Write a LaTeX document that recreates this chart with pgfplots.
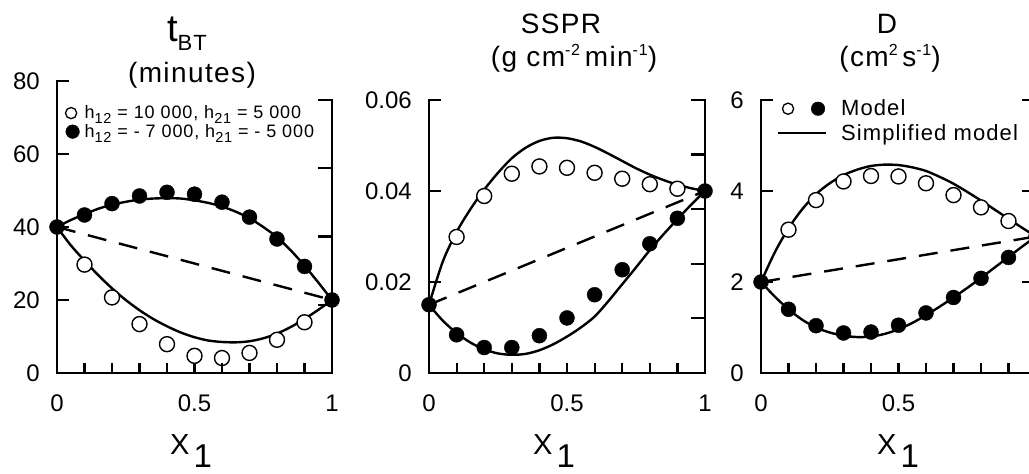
\documentclass[border=0pt]{standalone}
\usepackage{pgfplots}
\usepackage{pgfplotstable}
\pgfplotsset{compat=1.18}
\usepackage{fontspec}
\setmainfont{Liberation Sans}
\newfontfamily\wide[LetterSpace=5]{Liberation Sans}
\newcommand\sub[1]{\raisebox{-5pt}{\fontsize{14.5}{15}\selectfont #1}}
\newcommand\sups[1]{\raisebox{11pt}{\fontsize{16}{16}\selectfont #1}}

% ---------- panel A: t_BT ----------
\pgfplotstableread{
x y
0 40
0.05 41.9
0.1 43.5
0.15 45.0
0.2 46.1
0.25 46.9
0.3 47.5
0.35 47.8
0.4 47.9
0.45 47.8
0.5 47.3
0.55 46.6
0.6 45.6
0.65 44.2
0.7 42.4
0.75 40.0
0.8 37.2
0.85 33.6
0.9 29.4
0.95 24.8
1 20
}\tAup
\pgfplotstableread{
x y
0 40
0.05 35.0
0.1 30.8
0.15 26.8
0.2 23.2
0.25 20.0
0.3 17.2
0.35 14.8
0.4 12.8
0.45 11.1
0.5 9.8
0.55 8.9
0.6 8.5
0.65 8.4
0.7 8.7
0.75 9.5
0.8 10.8
0.85 12.6
0.9 14.8
0.95 17.3
1 20
}\tAlo
\pgfplotstableread{
x y
0.1 29.7
0.2 20.7
0.3 13.4
0.4 7.9
0.5 4.7
0.6 4.1
0.7 5.5
0.8 9.1
0.9 13.9
}\tAopen
\pgfplotstableread{
x y
0 40
0.1 43.3
0.2 46.4
0.3 48.5
0.4 49.5
0.5 49.0
0.6 46.8
0.7 42.7
0.8 36.7
0.9 29.2
1 20
}\tAfill

% ---------- panel B: SSPR ----------
\pgfplotstableread{
x y
0 0.015
0.05 0.0245
0.1 0.0310
0.15 0.0360
0.2 0.0403
0.25 0.0440
0.3 0.0472
0.35 0.0495
0.4 0.0510
0.45 0.0517
0.5 0.0516
0.55 0.0509
0.6 0.0497
0.65 0.0482
0.7 0.0466
0.75 0.0450
0.8 0.0436
0.85 0.0424
0.9 0.0414
0.95 0.0406
1 0.040
}\tBup
\pgfplotstableread{
x y
0 0.015
0.05 0.0115
0.1 0.0088
0.15 0.0067
0.2 0.0052
0.25 0.0043
0.3 0.0040
0.35 0.0042
0.4 0.0050
0.45 0.0063
0.5 0.0080
0.55 0.0100
0.6 0.0124
0.65 0.0158
0.7 0.0195
0.75 0.0232
0.8 0.0270
0.85 0.0305
0.9 0.0338
0.95 0.0370
1 0.040
}\tBlo
\pgfplotstableread{
x y
0.1 0.0299
0.2 0.0389
0.3 0.0438
0.4 0.0454
0.5 0.0451
0.6 0.0440
0.7 0.0427
0.8 0.0415
0.9 0.0405
}\tBopen
\pgfplotstableread{
x y
0 0.015
0.1 0.0084
0.2 0.0056
0.3 0.0056
0.4 0.0082
0.5 0.0121
0.6 0.0172
0.7 0.0227
0.8 0.0284
0.9 0.0340
1 0.040
}\tBfill

% ---------- panel C: D ----------
\pgfplotstableread{
x y
0 2.0
0.05 2.65
0.1 3.18
0.15 3.60
0.2 3.93
0.25 4.17
0.3 4.35
0.35 4.47
0.4 4.55
0.45 4.58
0.5 4.57
0.55 4.52
0.6 4.44
0.65 4.31
0.7 4.16
0.75 3.98
0.8 3.79
0.85 3.59
0.9 3.39
0.95 3.19
1 3.0
}\tCup
\pgfplotstableread{
x y
0 2.0
0.05 1.68
0.1 1.40
0.15 1.17
0.2 1.00
0.25 0.89
0.3 0.82
0.35 0.79
0.4 0.80
0.45 0.86
0.5 0.96
0.55 1.10
0.6 1.27
0.65 1.46
0.7 1.66
0.75 1.87
0.8 2.09
0.85 2.32
0.9 2.55
0.95 2.78
1 3.0
}\tClo
\pgfplotstableread{
x y
0.1 3.15
0.2 3.80
0.3 4.21
0.4 4.33
0.5 4.32
0.6 4.17
0.7 3.91
0.8 3.64
0.9 3.34
}\tCopen
\pgfplotstableread{
x y
0 2.0
0.1 1.40
0.2 1.04
0.3 0.88
0.4 0.90
0.5 1.05
0.6 1.32
0.7 1.66
0.8 2.08
0.9 2.54
1 3.0
}\tCfill

% frame: left + bottom axis lines, inward ticks, and a right axis
% #1 = left tick values (comma list), #2 = right axis tick spacing (pt), #3 = number of right ticks
\newcommand\frameaxes[3]{%
  \draw[black, line width=2.8pt, line join=miter, line cap=rect]
    (rel axis cs:0,1) -- (rel axis cs:0,0) -- (rel axis cs:1,0);
  \draw[black, line width=2.8pt, line cap=rect]
    (rel axis cs:1,0) -- ++(0pt,#2*#3);
  \foreach \v in {#1} {\draw[black, line width=2.2pt] (axis cs:0,\v) -- ++(12pt,0pt);}
  \foreach \t in {0.1,0.2,0.3,0.4,0.5,0.6,0.7,0.8,0.9} {\draw[black, line width=2.2pt] (axis cs:\t,0) -- ++(0pt,10pt);}
  \foreach \k in {1,...,#3} {\draw[black, line width=2.2pt] (rel axis cs:1,0) ++(0pt,\k*#2) -- ++(-14pt,0pt);}
}

\pgfplotsset{
  mainax/.style={scale only axis, anchor=south west, xmin=0, xmax=1, clip=false,
    axis x line=bottom, axis y line=left,
    axis line style={-, draw=none},
    every outer x axis line/.append style={-, draw=none},
    every outer y axis line/.append style={-, draw=none},
    every inner x axis line/.append style={-, draw=none},
    every inner y axis line/.append style={-, draw=none},
    x axis line style={-, draw=none}, y axis line style={-, draw=none},
    major tick length=0pt, tick style={draw=none},
    scaled ticks=false,
    ticklabel style={font=\fontsize{24}{28}\selectfont, inner sep=0pt},
    /pgf/number format/assume math mode=true,
    xtick={0,0.5,1},
    xticklabels={0,0.5,1},
    xticklabel style={yshift=-22pt},
    yticklabel style={xshift=-17pt},
    legend cell align=left},
  curve/.style={black, line width=2.4pt, smooth, no marks},
  dsh/.style={black, line width=2.4pt, dash pattern=on 19pt off 13pt, no marks},
  openm/.style={only marks, mark=*, mark size=7.5pt,
    mark options={draw=black, fill=white, line width=1.4pt}},
  fillm/.style={only marks, mark=*, mark size=7.5pt,
    mark options={draw=black, fill=black}},
}

\begin{document}
\begin{tikzpicture}
\path[use as bounding box] (0pt,0pt) rectangle (1029pt,474pt);
\clip (0pt,0pt) rectangle (1029pt,474pt);

% ================= Panel 1 =================
\begin{axis}[mainax, at={(57pt,101pt)}, width=275pt, height=292pt,
  ymin=0, ymax=80, ytick={0,20,40,60,80}, yticklabels={0,20,40,60,80},
  legend style={draw=none, fill=none, inner sep=0pt, outer sep=0pt,
    at={(rel axis cs:0.027,0.915)}, anchor=north west,
    row sep=4pt, column sep=5pt, nodes={inner sep=0pt},
    font=\wide\fontsize{18}{20}\selectfont},
  extra description/.code={\frameaxes{20,40,60,80}{68.25pt}{4}}]
\addplot[dsh, forget plot] coordinates {(0,40) (1,20)};
\addplot[curve, forget plot] table {\tAup};
\addplot[curve, forget plot] table {\tAlo};
\addplot[openm, forget plot] table {\tAopen};
\addplot[fillm, forget plot] table {\tAfill};
\addlegendimage{legend image code/.code={\path (0pt,0pt) (13pt,0pt);
  \draw[black, line width=1.3pt, fill=white] (6.5pt,0pt) circle (5.6pt);}}
\addlegendentry{h\sub{12} = 10 000, h\sub{21} = 5 000}
\addlegendimage{legend image code/.code={\path (0pt,0pt) (13pt,0pt);
  \fill[black] (8pt,0pt) circle (6.8pt);}}
\addlegendentry{h\sub{12} = - 7 000, h\sub{21} = - 5 000}
\end{axis}

% ================= Panel 2 =================
\begin{axis}[mainax, at={(429pt,101pt)}, width=276pt, height=273pt,
  ymin=0, ymax=0.06, ytick={0,0.02,0.04,0.06}, yticklabels={0,0.02,0.04,0.06},
  extra description/.code={\frameaxes{0.02,0.04,0.06}{54.6pt}{5}}]
\addplot[dsh] coordinates {(0,0.015) (1,0.040)};
\addplot[curve] table {\tBup};
\addplot[curve] table {\tBlo};
\addplot[openm] table {\tBopen};
\addplot[fillm] table {\tBfill};
\end{axis}

% ================= Panel 3 =================
\begin{axis}[mainax, at={(761pt,101pt)}, width=275pt, height=273pt,
  ymin=0, ymax=6, ytick={0,2,4,6}, yticklabels={0,2,4,6},
  legend style={draw=none, fill=none, inner sep=0pt, outer sep=0pt,
    at={(rel axis cs:0.058,1.0)}, anchor=north west,
    row sep=7pt, column sep=14pt, nodes={inner sep=0pt},
    font=\wide\fontsize{22}{24}\selectfont},
  extra description/.code={\frameaxes{2,4,6}{91pt}{3}}]
\addplot[dsh, forget plot] coordinates {(0,2) (1,3)};
\addplot[curve, forget plot] table {\tCup};
\addplot[curve, forget plot] table {\tClo};
\addplot[openm, forget plot] table {\tCopen};
\addplot[fillm, forget plot] table {\tCfill};
\addlegendimage{legend image code/.code={\path (0pt,0pt) (48pt,0pt);
  \draw[black, line width=1.3pt] (10pt,0pt) circle (5.6pt);
  \fill[black] (40pt,0pt) circle (6.8pt);}}
\addlegendentry{Model}
\addlegendimage{legend image code/.code={\path (0pt,0pt) (48pt,0pt);
  \draw[black, line width=2.2pt] (0pt,0pt) -- (48pt,0pt);}}
\addlegendentry{Simplified model}
\end{axis}

% ================= Titles =================
\node[anchor=base, inner sep=0pt] at (187pt,432pt)
  {\fontsize{38}{40}\selectfont t\raisebox{-9pt}{\wide\fontsize{22}{24}\selectfont BT}};
\node[anchor=base, inner sep=0pt] at (192pt,391pt)
  {\wide\fontsize{28}{30}\selectfont (minutes)};
\node[anchor=base, inner sep=0pt] at (561pt,440pt)
  {\wide\fontsize{28}{30}\selectfont SSPR};
\node[anchor=base, inner sep=0pt] at (574pt,407pt)
  {\wide\fontsize{28}{30}\selectfont (g cm\sups{-2}\,min\sups{-1})};
\node[anchor=base, inner sep=0pt] at (887pt,440pt)
  {\wide\fontsize{28}{30}\selectfont D};
\node[anchor=base, inner sep=0pt] at (890pt,407pt)
  {\wide\fontsize{28}{30}\selectfont (cm\sups{2}\,s\sups{-1})};

% ================= X labels =================
\node[anchor=base west, inner sep=0pt] at (170pt,19pt)
  {\fontsize{29}{30}\selectfont X\hspace{4pt}\raisebox{-13pt}{\fontsize{33}{34}\selectfont 1}};
\node[anchor=base west, inner sep=0pt] at (533pt,19pt)
  {\fontsize{29}{30}\selectfont X\hspace{4pt}\raisebox{-13pt}{\fontsize{33}{34}\selectfont 1}};
\node[anchor=base west, inner sep=0pt] at (877pt,19pt)
  {\fontsize{29}{30}\selectfont X\hspace{4pt}\raisebox{-13pt}{\fontsize{33}{34}\selectfont 1}};
\end{tikzpicture}
\end{document}
